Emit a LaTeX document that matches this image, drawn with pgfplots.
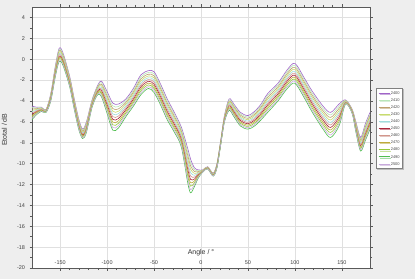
\documentclass[border=0pt]{standalone}
\usepackage{pgfplots}
\pgfplotsset{compat=1.18}
\usepackage{pgfplotstable}
\usepackage{fontspec}
\setmainfont{Liberation Sans}
\usetikzlibrary{shadows}
\definecolor{bgc}{RGB}{238,238,238}
\definecolor{c2400}{RGB}{160,100,200}
\definecolor{c2410}{RGB}{185,230,185}
\definecolor{c2420}{RGB}{190,160,110}
\definecolor{c2430}{RGB}{200,220,110}
\definecolor{c2440}{RGB}{160,220,220}
\definecolor{c2450}{RGB}{170,40,60}
\definecolor{c2460}{RGB}{210,150,140}
\definecolor{c2470}{RGB}{190,170,60}
\definecolor{c2480}{RGB}{150,200,60}
\definecolor{c2490}{RGB}{80,190,80}
\definecolor{c2500}{RGB}{200,170,220}
\pgfplotstableread{
x s2400 s2410 s2420 s2430 s2440 s2450 s2460 s2470 s2480 s2490 s2500
-180 -4.5 -4.63 -4.76 -4.89 -5.02 -5.28 -5.15 -5.41 -5.54 -5.8 -5.67
-175 -4.6 -4.67 -4.74 -4.81 -4.88 -5.02 -4.95 -5.09 -5.16 -5.3 -5.23
-170 -4.6 -4.64 -4.68 -4.72 -4.76 -4.84 -4.8 -4.88 -4.92 -5.0 -4.96
-165 -4.8 -4.83 -4.86 -4.89 -4.92 -4.98 -4.95 -5.01 -5.04 -5.1 -5.07
-160 -3.3 -3.37 -3.44 -3.51 -3.58 -3.72 -3.65 -3.79 -3.86 -4.0 -3.93
-155 -0.6 -0.7 -0.8 -0.9 -1.0 -1.2 -1.1 -1.3 -1.4 -1.6 -1.5
-151 1.05 0.93 0.8 0.68 0.55 0.3 0.43 0.18 0.05 -0.2 -0.08
-147 0.6 0.48 0.36 0.24 0.12 -0.12 0.0 -0.24 -0.36 -0.6 -0.48
-140 -1.6 -1.7 -1.8 -1.9 -2.0 -2.2 -2.1 -2.3 -2.4 -2.6 -2.5
-135 -3.8 -3.9 -4.0 -4.1 -4.2 -4.4 -4.3 -4.5 -4.6 -4.8 -4.7
-130 -5.8 -5.9 -6.0 -6.1 -6.2 -6.4 -6.3 -6.5 -6.6 -6.8 -6.7
-126 -6.7 -6.79 -6.88 -6.97 -7.06 -7.24 -7.15 -7.33 -7.42 -7.6 -7.51
-122 -6.0 -6.1 -6.2 -6.3 -6.4 -6.6 -6.5 -6.7 -6.8 -7.0 -6.9
-116 -3.9 -3.97 -4.04 -4.11 -4.18 -4.32 -4.25 -4.39 -4.46 -4.6 -4.53
-110 -2.5 -2.59 -2.68 -2.77 -2.86 -3.04 -2.95 -3.13 -3.22 -3.4 -3.31
-106 -2.1 -2.25 -2.4 -2.55 -2.7 -3.0 -2.85 -3.15 -3.3 -3.6 -3.45
-100 -3.1 -3.31 -3.52 -3.73 -3.94 -4.36 -4.15 -4.57 -4.78 -5.2 -4.99
-94 -4.2 -4.46 -4.72 -4.98 -5.24 -5.76 -5.5 -6.02 -6.28 -6.8 -6.54
-88 -4.3 -4.53 -4.76 -4.99 -5.22 -5.68 -5.45 -5.91 -6.14 -6.6 -6.37
-80 -3.8 -3.97 -4.14 -4.31 -4.48 -4.82 -4.65 -4.99 -5.16 -5.5 -5.33
-72 -2.8 -2.97 -3.14 -3.31 -3.48 -3.82 -3.65 -3.99 -4.16 -4.5 -4.33
-64 -1.5 -1.69 -1.88 -2.07 -2.26 -2.64 -2.45 -2.83 -3.02 -3.4 -3.21
-56 -1.1 -1.27 -1.44 -1.61 -1.78 -2.12 -1.95 -2.29 -2.46 -2.8 -2.63
-50 -1.2 -1.4 -1.6 -1.8 -2.0 -2.4 -2.2 -2.6 -2.8 -3.2 -3.0
-43 -2.4 -2.6 -2.8 -3.0 -3.2 -3.6 -3.4 -3.8 -4.0 -4.4 -4.2
-36 -3.8 -4.0 -4.2 -4.4 -4.6 -5.0 -4.8 -5.2 -5.4 -5.8 -5.6
-29 -5.0 -5.19 -5.38 -5.57 -5.76 -6.14 -5.95 -6.33 -6.52 -6.9 -6.71
-21 -6.5 -6.69 -6.88 -7.07 -7.26 -7.64 -7.45 -7.83 -8.02 -8.4 -8.21
-14 -8.6 -8.93 -9.26 -9.59 -9.92 -10.58 -10.25 -10.91 -11.24 -11.9 -11.57
-11 -9.6 -9.92 -10.24 -10.56 -10.88 -11.52 -11.2 -11.84 -12.16 -12.8 -12.48
-7 -10.4 -10.58 -10.76 -10.94 -11.12 -11.48 -11.3 -11.66 -11.84 -12.2 -12.02
-3 -10.6 -10.68 -10.76 -10.84 -10.92 -11.08 -11.0 -11.16 -11.24 -11.4 -11.32
2 -10.6 -10.62 -10.64 -10.66 -10.68 -10.72 -10.7 -10.74 -10.76 -10.8 -10.78
7 -10.3 -10.32 -10.34 -10.36 -10.38 -10.42 -10.4 -10.44 -10.46 -10.5 -10.48
13 -10.9 -10.93 -10.96 -10.99 -11.02 -11.08 -11.05 -11.11 -11.14 -11.2 -11.17
17 -10.0 -10.04 -10.08 -10.12 -10.16 -10.24 -10.2 -10.28 -10.32 -10.4 -10.36
21 -7.8 -7.84 -7.88 -7.92 -7.96 -8.04 -8.0 -8.08 -8.12 -8.2 -8.16
25 -5.4 -5.46 -5.52 -5.58 -5.64 -5.76 -5.7 -5.82 -5.88 -6.0 -5.94
30 -3.8 -3.91 -4.02 -4.13 -4.24 -4.46 -4.35 -4.57 -4.68 -4.9 -4.79
35 -4.3 -4.42 -4.54 -4.66 -4.78 -5.02 -4.9 -5.14 -5.26 -5.5 -5.38
42 -5.1 -5.23 -5.36 -5.49 -5.62 -5.88 -5.75 -6.01 -6.14 -6.4 -6.27
50 -5.4 -5.53 -5.66 -5.79 -5.92 -6.18 -6.05 -6.31 -6.44 -6.7 -6.57
57 -5.0 -5.14 -5.28 -5.42 -5.56 -5.84 -5.7 -5.98 -6.12 -6.4 -6.26
64 -4.3 -4.45 -4.6 -4.75 -4.9 -5.2 -5.05 -5.35 -5.5 -5.8 -5.65
71 -3.3 -3.48 -3.66 -3.84 -4.02 -4.38 -4.2 -4.56 -4.74 -5.1 -4.92
82 -2.3 -2.47 -2.64 -2.81 -2.98 -3.32 -3.15 -3.49 -3.66 -4.0 -3.83
92 -1.0 -1.18 -1.36 -1.54 -1.72 -2.08 -1.9 -2.26 -2.44 -2.8 -2.62
100 -0.4 -0.59 -0.78 -0.97 -1.16 -1.54 -1.35 -1.73 -1.92 -2.3 -2.11
110 -1.8 -1.99 -2.18 -2.37 -2.56 -2.94 -2.75 -3.13 -3.32 -3.7 -3.51
118 -3.0 -3.2 -3.4 -3.6 -3.8 -4.2 -4.0 -4.4 -4.6 -5.0 -4.8
130 -4.5 -4.72 -4.94 -5.16 -5.38 -5.82 -5.6 -6.04 -6.26 -6.7 -6.48
138 -5.1 -5.34 -5.58 -5.82 -6.06 -6.54 -6.3 -6.78 -7.02 -7.5 -7.26
147 -4.3 -4.51 -4.72 -4.93 -5.14 -5.56 -5.35 -5.77 -5.98 -6.4 -6.19
154 -3.9 -3.94 -3.98 -4.02 -4.06 -4.14 -4.1 -4.18 -4.22 -4.3 -4.26
161 -4.8 -4.84 -4.88 -4.92 -4.96 -5.04 -5.0 -5.08 -5.12 -5.2 -5.16
165 -6.0 -6.1 -6.2 -6.3 -6.4 -6.6 -6.5 -6.7 -6.8 -7.0 -6.9
170 -7.5 -7.63 -7.76 -7.89 -8.02 -8.28 -8.15 -8.41 -8.54 -8.8 -8.67
175 -6.2 -6.36 -6.52 -6.68 -6.84 -7.16 -7.0 -7.32 -7.48 -7.8 -7.64
180 -5.1 -5.26 -5.42 -5.58 -5.74 -6.06 -5.9 -6.22 -6.38 -6.7 -6.54
}\data
\begin{document}
\begin{tikzpicture}
\fill[bgc] (-32bp,-11bp) rectangle (383bp,268bp);
\begin{axis}[
  scale only axis, width=338bp, height=261bp,
  at={(0,0)}, anchor=south west,
  xmin=-180, xmax=180, ymin=-20, ymax=5,
  xtick={-150,-100,...,150}, ytick={-20,-18,...,4},
  minor x tick num=4, minor y tick num=1,
  axis background/.style={fill=white},
  grid=major, major grid style={black!12, line width=0.5bp},
  tick align=outside,
  major tick length=2.5bp, minor tick length=2bp,
  axis line style={black!65, line width=0.6bp},
  tick style={black!65, line width=0.4bp},
  /pgf/number format/assume math mode=true,
  ticklabel style={font=\fontsize{5.5}{6}\selectfont, text=black!75},
  xticklabel style={anchor=south, yshift=2bp},
  yticklabel style={anchor=east, xshift=-1bp},
  xlabel={Angle / °},
  xlabel style={at={(axis description cs:0.5,0)}, anchor=south, yshift=9bp, font=\fontsize{7}{8}\selectfont, text=black!80},
  ylabel={Etotal / dB},
  ylabel style={at={(axis description cs:-0.064,0.53)}, anchor=south, font=\fontsize{7}{8}\selectfont, text=black!80},
  every axis plot/.append style={line width=0.6bp, smooth, tension=0.5, no markers},
  legend style={at={(axis description cs:1,0.69)}, anchor=north west, xshift=6bp,
    draw=black!50, fill=white, line width=0.4bp,
    drop shadow={shadow xshift=1.2bp, shadow yshift=-1.2bp, fill=black!45},
    font=\fontsize{4}{4.5}\selectfont, text=black!70,
    row sep=1.6bp, inner xsep=2bp, inner ysep=2bp,
    nodes={inner sep=1bp, text height=3bp, text depth=0.5bp}},
  legend cell align=left,
  legend image code/.code={\draw[#1, line width=0.6bp] (0bp,0bp) -- (11bp,0bp);},
]
\addplot[c2400] table[x=x, y=s2400] {\data};
\addplot[c2410] table[x=x, y=s2410] {\data};
\addplot[c2420] table[x=x, y=s2420] {\data};
\addplot[c2430] table[x=x, y=s2430] {\data};
\addplot[c2440] table[x=x, y=s2440] {\data};
\addplot[c2450] table[x=x, y=s2450] {\data};
\addplot[c2460] table[x=x, y=s2460] {\data};
\addplot[c2470] table[x=x, y=s2470] {\data};
\addplot[c2480] table[x=x, y=s2480] {\data};
\addplot[c2490] table[x=x, y=s2490] {\data};
\addplot[c2500] table[x=x, y=s2500] {\data};
\legend{2400,2410,2420,2430,2440,2450,2460,2470,2480,2490,2500}
\end{axis}
\pgfresetboundingbox
\path (-32bp,-11bp) rectangle (383bp,268bp);
\end{tikzpicture}
\end{document}
